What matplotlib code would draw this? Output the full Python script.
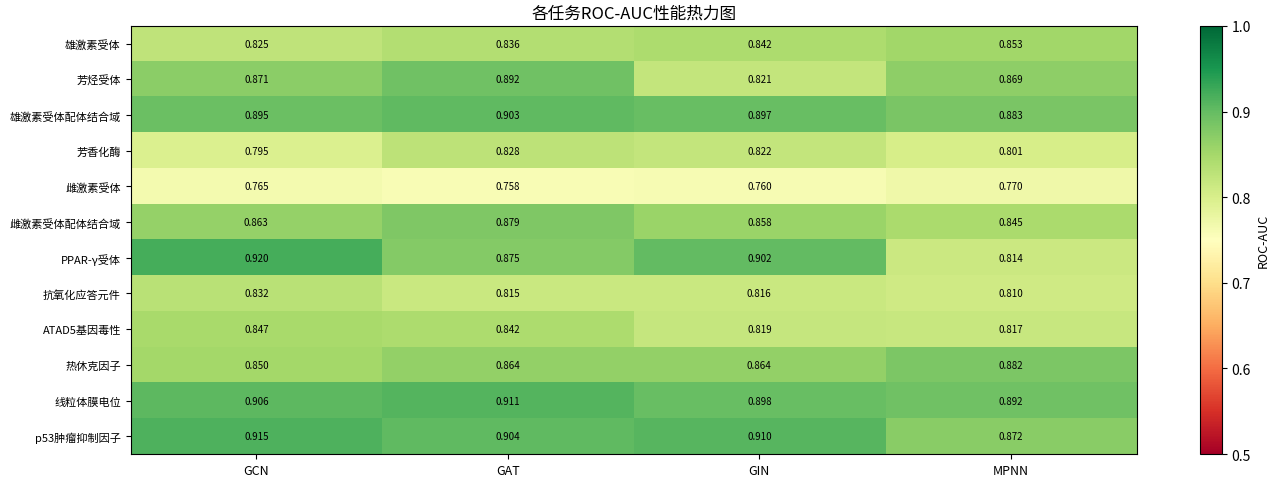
import numpy as np
import matplotlib
matplotlib.use("Agg")
import matplotlib.pyplot as plt

plt.rcParams['font.family'] = ['Noto Sans CJK SC', 'DejaVu Sans']
plt.rcParams['axes.unicode_minus'] = False

tasks = ['雄激素受体', '芳烃受体', '雄激素受体配体结合域', '芳香化酶', '雌激素受体',
         '雌激素受体配体结合域', 'PPAR-γ受体', '抗氧化应答元件', 'ATAD5基因毒性',
         '热休克因子', '线粒体膜电位', 'p53肿瘤抑制因子']
models = ['GCN', 'GAT', 'GIN', 'MPNN']

gcn = [0.825, 0.871, 0.895, 0.795, 0.765, 0.863, 0.920, 0.832, 0.847, 0.850, 0.906, 0.915]
gat = [0.836, 0.892, 0.903, 0.828, 0.758, 0.879, 0.875, 0.815, 0.842, 0.864, 0.911, 0.904]
gin = [0.842, 0.821, 0.897, 0.822, 0.760, 0.858, 0.902, 0.816, 0.819, 0.864, 0.898, 0.910]
mpnn = [0.853, 0.869, 0.883, 0.801, 0.770, 0.845, 0.814, 0.810, 0.817, 0.882, 0.892, 0.872]

data = np.array([gcn, gat, gin, mpnn]).T

fig = plt.figure(figsize=(12.8, 4.81), dpi=100)
ax = fig.add_axes([0.102, 0.054, 0.786, 0.890])
cax = fig.add_axes([0.9375, 0.054, 0.017, 0.890])

im = ax.imshow(data, cmap='RdYlGn', vmin=0.5, vmax=1.0, aspect='auto')

for i in range(len(tasks)):
    for j in range(len(models)):
        ax.text(j, i, f'{data[i, j]:.3f}', ha='center', va='center', fontsize=7, color='black')

ax.set_xticks(range(len(models)))
ax.set_xticklabels(models, fontsize=9)
ax.set_yticks(range(len(tasks)))
ax.set_yticklabels(tasks, fontsize=8)
ax.set_title('各任务ROC-AUC性能热力图', fontsize=12)

cb = fig.colorbar(im, cax=cax)
cb.set_label('ROC-AUC', fontsize=9)
cb.ax.tick_params(labelsize=10)

fig.savefig('out.png', dpi=100)
